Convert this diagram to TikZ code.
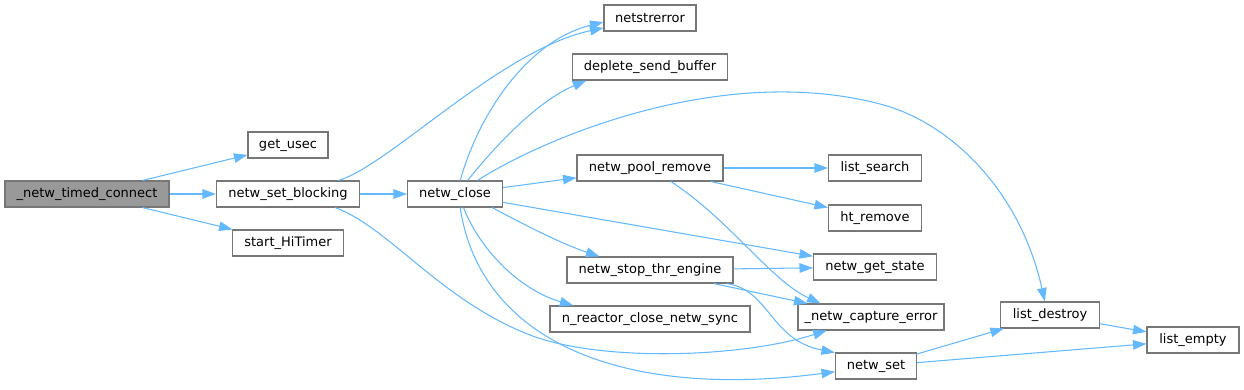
\documentclass[tikz,border=0pt]{standalone}
\usepackage{fontspec}
\setmainfont{DejaVu Sans}
\usepackage{tikz}
\usetikzlibrary{arrows.meta}
\definecolor{edgeblue}{HTML}{63B8FF}
\definecolor{boxgray}{HTML}{777777}
\definecolor{rootfill}{HTML}{999999}

\begin{document}
\begin{tikzpicture}[
  x=0.02cm, y=-0.02cm,
  fn/.style={rectangle, draw=boxgray, fill=white, line width=0.6pt,
    minimum height=0.52cm, inner sep=0pt,
    font=\fontsize{7.4}{9}\selectfont},
  root/.style={fn, fill=rootfill},
  arr/.style={-{Triangle[length=0.27cm, width=0.19cm]}, color=edgeblue,
    line width=0.6pt},
]
\useasboundingbox (0,0) rectangle (1244,389);
% callers on the left
\node[root, minimum width=3.28cm] (tc)  at (87,194)  {\_netw\_timed\_connect};
\node[fn, minimum width=1.6cm]    (gu)  at (288,145) {get\_usec};
\node[fn, minimum width=2.86cm]   (sb)  at (288,194) {netw\_set\_blocking};
\node[fn, minimum width=2.22cm]   (sh)  at (288,243) {start\_HiTimer};
\node[fn, minimum width=1.9cm]    (nc)  at (455,194) {netw\_close};
% middle column
\node[fn, minimum width=1.84cm]   (nse)  at (650,18)  {netstrerror};
\node[fn, minimum width=3.1cm]    (dsb)  at (650,67)  {deplete\_send\_buffer};
\node[fn, minimum width=2.92cm]   (npr)  at (650,168) {netw\_pool\_remove};
\node[fn, minimum width=3.32cm]   (nste) at (650,270) {netw\_stop\_thr\_engine};
\node[fn, minimum width=4.0cm]    (nrc)  at (650,319) {n\_reactor\_close\_netw\_sync};
% right columns
\node[fn, minimum width=1.86cm]   (ls)  at (875,168) {list\_search};
\node[fn, minimum width=1.86cm]   (htr) at (875,218) {ht\_remove};
\node[fn, minimum width=2.46cm]   (ngs) at (875,267) {netw\_get\_state};
\node[fn, minimum width=2.92cm]   (ce)  at (871,317) {\_netw\_capture\_error};
\node[fn, minimum width=1.62cm]   (ns)  at (876,366) {netw\_set};
\node[fn, minimum width=1.98cm]   (ld)  at (1050,315) {list\_destroy};
\node[fn, minimum width=1.84cm]   (le)  at (1193,340) {list\_empty};
% calls
\draw[arr] (tc) -- (gu);
\draw[arr] (tc) -- (sb);
\draw[arr] (tc) -- (sh);
\draw[arr] (sb) -- (nc);
\draw[arr] (sb.15) .. controls (390,165) and (500,50) .. (nse.192);
\draw[arr] (sb.-16) .. controls (390,228) and (440,300) .. (530,335)
  .. controls (600,362) and (740,358) .. (ce.197);
\draw[arr] (nc.69) .. controls (480,110) and (530,40) .. (nse.185);
\draw[arr] (nc.47) .. controls (500,140) and (540,100) .. (dsb.-168);
\draw[arr] (nc.31) .. controls (540,140) and (720,62) .. (880,104)
  .. controls (950,122) and (1020,190) .. (ld.111);
\draw[arr] (nc) -- (npr);
\draw[arr] (nc) -- (ngs);
\draw[arr] (nc.-20) .. controls (530,228) and (565,245) .. (nste.165);
\draw[arr] (nc.-58) .. controls (480,250) and (520,290) .. (nrc.170);
\draw[arr] (nc.-69) .. controls (480,340) and (620,400) .. (ns.188);
\draw[arr] (npr) -- (ls);
\draw[arr] (npr) -- (htr);
\draw[arr] (npr.-33) .. controls (730,220) and (770,280) .. (ce.165);
\draw[arr] (nste) -- (ngs);
\draw[arr] (nste) -- (ce);
\draw[arr] (nste.-10) .. controls (770,290) and (770,340) .. (ns.162);
\draw[arr] (ns) -- (ld);
\draw[arr] (ns) -- (le);
\draw[arr] (ld) -- (le);
\end{tikzpicture}
\end{document}
